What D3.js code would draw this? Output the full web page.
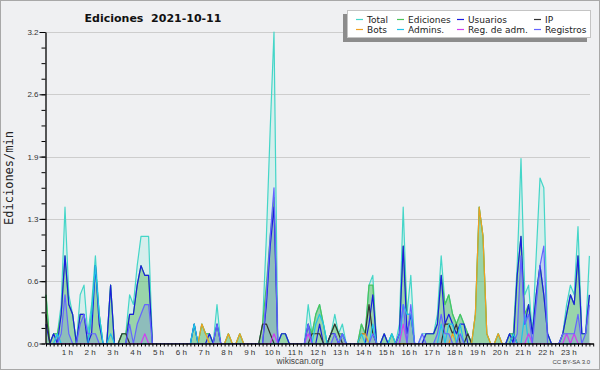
<!DOCTYPE html>
<html>
<head>
<meta charset="utf-8">
<script src="https://cdn.jsdelivr.net/npm/d3@7"></script>
<style>
  body { margin: 0; background: #eff0f2; }
  svg { display: block; }
  text { font-family: "DejaVu Sans", sans-serif; }
</style>
</head>
<body>
<div id="chart"></div>
<script>
// Edits per minute, one value per 10 minutes (6 per row = 1 hour)
var total = [
  .5, 0, .1, .1, .4, 1.4,   .5, .3, 0, .5, .6, .1,   .4, .9, .3, 0, 0, .6,   0, 0, .1, .1, .5, .4,
  .8, 1.1, 1.1, 1.1, 0, 0,  0, 0, 0, 0, 0, 0,        0, 0, 0, .2, 0, .2,     .1, .1, 0, .4, 0, 0,
  .1, 0, 0, .1, 0, 0,       0, 0, 0, .2, 1.1, 2.2,   3.2, 0, .1, .1, 0, 0,   0, 0, 0, .4, .1, .3,
  .4, .2, 0, .1, .3, .1,    .2, 0, 0, 0, 0, .2,      .1, .6, .7, 0, 0, .1,   0, .1, 0, .2, 1.4, .3,
  .7, 0, 0, .1, .1, .1,     .1, .3, .9, .4, .5, .3,  .2, .3, .2, .1, 0, .3,  1.4, 1.1, .1, 0, 0, .1,
  0, 0, .1, .1, .8, 1.9,    .5, .6, .1, .9, 1.7, 1.6, .1, 0, 0, 0, .1, .4, .6, .5, 1.2, .1, .1, .9
];
var ediciones = [
  .5, 0, .1, .1, .3, .9,    .4, .3, 0, .3, .3, 0,    .3, .8, .3, 0, 0, .6,   0, 0, .1, .1, .3, .3,
  .6, .8, .7, .7, 0, 0,     0, 0, 0, 0, 0, 0,        0, 0, 0, .2, 0, .2,     .1, .1, 0, .2, 0, 0,
  .1, 0, 0, .1, 0, 0,       0, 0, 0, .2, .6, 1.1,    1.5, 0, .1, .1, 0, 0,   0, 0, 0, .2, .1, .3,
  .4, .2, 0, .1, .2, .1,    .1, 0, 0, 0, 0, .2,      .1, .6, .6, 0, 0, .1,   0, .1, 0, .1, 1.0, .3,
  .3, 0, 0, 0, .1, .1,      .1, .2, .7, .4, .5, .3,  .2, .3, .2, .1, 0, .3,  1.4, 1.1, .1, 0, 0, .1,
  0, 0, .1, .1, .7, 1.1,    .3, .4, .1, .5, .8, .5,  .1, 0, 0, 0, .1, .3,   .5, .4, .9, .1, .1, .5
];
var usuarios = [
  .2, 0, .1, 0, .3, .9,     .4, .3, 0, .3, .3, 0,    .1, .8, .2, 0, 0, .6,   0, 0, 0, 0, .3, .3,
  .6, .8, .7, .7, 0, 0,     0, 0, 0, 0, 0, 0,        0, 0, 0, .2, 0, 0,      0, .1, 0, .2, 0, 0,
  0, 0, 0, 0, 0, 0,         0, 0, 0, 0, .4, 1.0,     1.4, 0, .1, .1, 0, 0,   0, 0, 0, .2, 0, 0,
  .2, 0, 0, .1, .1, 0,      .1, 0, 0, 0, 0, 0,       0, .2, .5, 0, 0, .1,    0, 0, 0, .1, 1.0, .1,
  .3, 0, 0, 0, .1, .1,      .1, .2, .7, .2, .3, .2,  .1, .2, .2, 0, 0, 0,    0, 0, 0, 0, 0, 0,
  0, 0, .1, 0, .7, 1.1,     .2, .4, .1, .5, .8, .5,  .1, 0, 0, 0, .1, .3,    .5, .4, .9, .1, .1, .5
];
var ip = [
  .3, 0, 0, 0, 0, 0,        0, 0, 0, 0, 0, 0,        0, 0, 0, 0, 0, 0,       0, 0, .1, .1, 0, 0,
  0, 0, 0, 0, 0, 0,         0, 0, 0, 0, 0, 0,        0, 0, 0, 0, 0, 0,       0, 0, 0, 0, 0, 0,
  0, 0, 0, 0, 0, 0,         0, 0, 0, .2, .2, .1,     0, 0, 0, 0, 0, 0,       0, 0, 0, 0, .1, .1,
  .1, 0, 0, .1, .2, .1,     0, 0, 0, 0, 0, .1,       .1, .4, .1, 0, 0, 0,    0, 0, 0, 0, 0, 0,
  0, 0, 0, 0, 0, 0,         0, 0, 0, .2, .2, .1,     .2, 0, 0, .1, 0, 0,     0, 0, 0, 0, 0, 0,
  0, 0, 0, .1, 0, 0,        0, 0, 0, 0, 0, 0,        0, 0, 0, 0, 0, 0,       0, 0, 0, 0, 0, 0
];
var bots = [
  0, 0, 0, 0, 0, 0,         0, 0, 0, 0, 0, 0,        0, 0, 0, 0, 0, 0,       0, 0, 0, 0, 0, 0,
  0, 0, 0, 0, 0, 0,         0, 0, 0, 0, 0, 0,        0, 0, 0, 0, 0, .2,      .1, 0, 0, 0, 0, 0,
  .1, 0, 0, .1, 0, 0,       0, 0, 0, 0, 0, 0,        0, 0, 0, 0, 0, 0,       0, 0, 0, 0, 0, 0,
  0, 0, 0, 0, 0, 0,         0, 0, 0, 0, 0, .1,       .1, 0, 0, 0, 0, 0,      0, 0, 0, 0, 0, 0,
  0, 0, 0, 0, 0, 0,         0, 0, 0, 0, 0, .1,       0, 0, 0, 0, 0, .3,      1.4, 1.1, .1, 0, 0, .1,
  0, 0, 0, 0, 0, 0,         0, 0, 0, 0, 0, 0,        0, 0, 0, 0, 0, 0,       0, 0, 0, 0, 0, 0
];
var admins = [
  0, 0, 0, .1, 0, 0,        0, 0, 0, 0, 0, 0,        .3, .8, .3, 0, 0, .1,   0, 0, 0, 0, 0, 0,
  0, 0, 0, 0, 0, 0,         0, 0, 0, 0, 0, 0,        0, 0, 0, .2, 0, 0,      0, 0, 0, 0, 0, 0,
  0, 0, 0, 0, 0, 0,         0, 0, 0, 0, 0, 0,        0, 0, 0, 0, 0, 0,       0, 0, 0, 0, 0, .2,
  .3, .2, 0, 0, 0, 0,       .1, 0, 0, 0, 0, .1,      0, 0, .2, 0, 0, 0,      0, .1, 0, 0, .4, .3,
  .3, 0, 0, 0, 0, 0,        0, 0, .2, 0, .2, .2,     0, .2, 0, 0, 0, 0,      0, 0, 0, 0, 0, 0,
  0, 0, 0, .1, 0, 0,        .3, 0, 0, 0, 0, 0,       0, 0, 0, 0, 0, 0,       0, 0, 0, 0, 0, 0
];
var regAdm = [
  0, 0, 0, 0, 0, 0,         0, 0, 0, 0, 0, 0,        0, 0, 0, 0, 0, 0,       0, 0, 0, 0, 0, 0,
  0, 0, .1, 0, 0, 0,        0, 0, 0, 0, 0, 0,        0, 0, 0, 0, 0, 0,       0, 0, 0, 0, 0, 0,
  0, 0, 0, 0, 0, 0,         0, 0, 0, 0, 0, 0,        .1, 0, 0, 0, 0, 0,      0, 0, 0, .1, 0, 0,
  0, 0, 0, 0, 0, 0,         0, 0, 0, 0, 0, 0,        0, 0, 0, 0, 0, 0,       0, 0, 0, 0, .2, 0,
  0, 0, 0, 0, 0, 0,         0, 0, 0, 0, 0, 0,        0, 0, 0, 0, 0, 0,       0, 0, 0, 0, 0, 0,
  0, 0, 0, 0, 0, 0,         0, .1, 0, 0, 0, 0,       0, 0, 0, 0, 0, .1,      0, .1, 0, 0, 0, 0
];
var registros = [
  0, 0, 0, 0, .1, .5,       .1, 0, 0, .2, .3, .1,    .1, .1, 0, 0, 0, 0,     0, 0, 0, 0, .2, 0,
  .2, .3, .4, .4, 0, 0,     0, 0, 0, 0, 0, 0,        0, 0, 0, 0, 0, 0,       0, 0, 0, .2, 0, 0,
  0, 0, 0, 0, 0, 0,         0, 0, 0, 0, .5, 1.1,     1.6, 0, 0, 0, 0, 0,     0, 0, 0, .2, 0, 0,
  0, 0, 0, 0, .1, 0,        .1, 0, 0, 0, 0, 0,       0, 0, .1, 0, 0, 0,      0, 0, 0, .1, .4, 0,
  .4, 0, 0, .1, 0, 0,       0, .1, .3, .1, .1, 0,    0, .1, 0, 0, 0, 0,      0, 0, 0, 0, 0, 0,
  0, 0, 0, 0, .1, .9,       .2, .3, 0, .4, .8, 1.0,  0, 0, 0, 0, .1, .1,     .1, .1, .3, 0, .1, .4
];

var seriesNames = ["Total", "Ediciones", "Usuarios", "IP", "Bots", "Admins.", "Reg. de adm.", "Registros"];
var hourLabels = ["1 h", "2 h", "3 h", "4 h", "5 h", "6 h", "7 h", "8 h", "9 h", "10 h", "11 h", "12 h",
                  "13 h", "14 h", "15 h", "16 h", "17 h", "18 h", "19 h", "20 h", "21 h", "22 h", "23 h"];
var yMajor = [0, 0.64, 1.28, 1.92, 2.56, 3.2];

var svgWidth = 600;
var svgHeight = 370;

var svg = d3.select("#chart")
  .append("svg")
  .attr("width", svgWidth)
  .attr("height", svgHeight);

svg.append("rect")
  .attr("x", 0.5).attr("y", 0.5)
  .attr("width", svgWidth - 1).attr("height", svgHeight - 1)
  .attr("fill", "#eff0f2")
  .attr("stroke", "#a8a8a8");

// scales: one step = 10 minutes
var x = d3.scaleLinear().domain([0, 144]).range([46, 593.2]);
var y = d3.scaleLinear().domain([0, 3.2]).range([343.5, 32]);

// gridlines
svg.append("g")
  .selectAll("line")
  .data(yMajor.slice(1))
  .enter()
  .append("line")
  .attr("x1", 46).attr("x2", 590)
  .attr("y1", d => Math.round(y(d)) + 0.5)
  .attr("y2", d => Math.round(y(d)) + 0.5)
  .attr("stroke", "#cdcdcd");

var series = [
  { values: total,     color: "#44d6c8", fill: "rgba(64,224,208,0.14)" },
  { values: ediciones, color: "#4cc45a", fill: "rgba(80,180,90,0.45)" },
  { values: usuarios,  color: "#1c1ce0" },
  { values: ip,        color: "#333333" },
  { values: bots,      color: "#f0a020" },
  { values: admins,    color: "#1ec4ea" },
  { values: regAdm,    color: "#d040f0" },
  { values: registros, color: "#6464ff", fill: "rgba(100,100,255,0.2)" }
];

var area = d3.area()
  .x((d, i) => x(i))
  .y0(y(0))
  .y1(d => y(d));

var line = d3.line()
  .x((d, i) => x(i))
  .y(d => y(d));

var plot = svg.append("g");

series.filter(s => s.fill).forEach(function(s) {
  plot.append("path")
    .attr("d", area(s.values))
    .attr("fill", s.fill);
});

series.forEach(function(s) {
  plot.append("path")
    .attr("d", line(s.values))
    .attr("fill", "none")
    .attr("stroke", s.color)
    .attr("stroke-width", 1.2)
    .attr("stroke-linejoin", "round");
});

// x axis, a tick every 10 minutes
var xAxis = d3.axisBottom(x)
  .tickValues(d3.range(0, 145))
  .tickSize(3)
  .tickSizeOuter(0)
  .tickFormat("");

var xg = svg.append("g")
  .attr("transform", "translate(0, 343.5)")
  .call(xAxis);
xg.selectAll("line").attr("stroke", "#000");
xg.select(".domain").attr("stroke", "#000").attr("stroke-width", 1.6);

svg.append("g")
  .selectAll("text")
  .data(hourLabels)
  .enter()
  .append("text")
  .attr("x", (d, i) => x((i + 1) * 6) - 1.5)
  .attr("y", 355)
  .attr("text-anchor", "middle")
  .style("font-family", "'Liberation Sans', sans-serif")
  .style("font-size", "8px")
  .attr("fill", "#333")
  .text(d => d);

// y axis: minor ticks, then labelled ticks
var yMinorAxis = d3.axisLeft(y)
  .tickValues(d3.range(0, 3.21, 0.16))
  .tickSize(4)
  .tickSizeOuter(0)
  .tickFormat("");

var yMajorAxis = d3.axisLeft(y)
  .tickValues(yMajor)
  .tickSize(6)
  .tickSizeOuter(0)
  .tickPadding(1)
  .tickFormat(d3.format(".1f"));

var yg1 = svg.append("g").attr("transform", "translate(45.5, 0)").call(yMinorAxis);
var yg2 = svg.append("g").attr("transform", "translate(45.5, 0)").call(yMajorAxis);
yg1.selectAll("line").attr("stroke", "#000");
yg2.selectAll("line").attr("stroke", "#000");
yg1.select(".domain").attr("stroke", "#000").attr("stroke-width", 1.3);
yg2.select(".domain").remove();
yg2.selectAll("text")
  .style("font-family", "'Liberation Sans', sans-serif")
  .style("font-size", "8px")
  .attr("fill", "#333");

// titles
svg.append("text")
  .attr("x", 153)
  .attr("y", 21.5)
  .attr("text-anchor", "middle")
  .style("font-size", "11px")
  .style("font-weight", "bold")
  .style("white-space", "pre")
  .attr("fill", "#111")
  .text("Ediciones  2021-10-11");

svg.append("text")
  .attr("transform", "translate(13, 178) rotate(-90)")
  .attr("text-anchor", "middle")
  .style("font-family", "'DejaVu Sans Mono', monospace")
  .style("font-size", "12px")
  .attr("fill", "#222")
  .text("Ediciones/min");

svg.append("text")
  .attr("x", 300)
  .attr("y", 364)
  .attr("text-anchor", "middle")
  .style("font-family", "'Liberation Sans', sans-serif")
  .style("font-size", "8.5px")
  .attr("fill", "#444")
  .text("wikiscan.org");

svg.append("text")
  .attr("x", 590)
  .attr("y", 364)
  .attr("text-anchor", "end")
  .style("font-family", "'Liberation Sans', sans-serif")
  .style("font-size", "6px")
  .attr("fill", "#444")
  .text("CC BY-SA 3.0");

// legend
var legend = svg.append("g");
legend.append("rect")
  .attr("x", 343).attr("y", 14)
  .attr("width", 244).attr("height", 28)
  .attr("fill", "#8c8c8c");
legend.append("rect")
  .attr("x", 347.5).attr("y", 10.5)
  .attr("width", 243).attr("height", 27)
  .attr("fill", "#fff")
  .attr("stroke", "#c4c4c4");

var legendTextX = [367, 408, 468, 545];
var legendRowY = [19, 29];

var items = legend.selectAll("g.item")
  .data(seriesNames)
  .enter()
  .append("g")
  .attr("class", "item")
  .attr("transform", (d, i) => `translate(${legendTextX[i % 4]}, ${legendRowY[Math.floor(i / 4)]})`);

items.append("line")
  .attr("x1", -11).attr("x2", -4)
  .attr("y1", 0.5).attr("y2", 0.5)
  .attr("stroke", (d, i) => series[i].color)
  .attr("stroke-width", 1.2);

items.append("text")
  .attr("x", 0)
  .attr("y", 3.5)
  .style("font-size", "9px")
  .attr("fill", "#222")
  .text(d => d);
</script>
</body>
</html>
